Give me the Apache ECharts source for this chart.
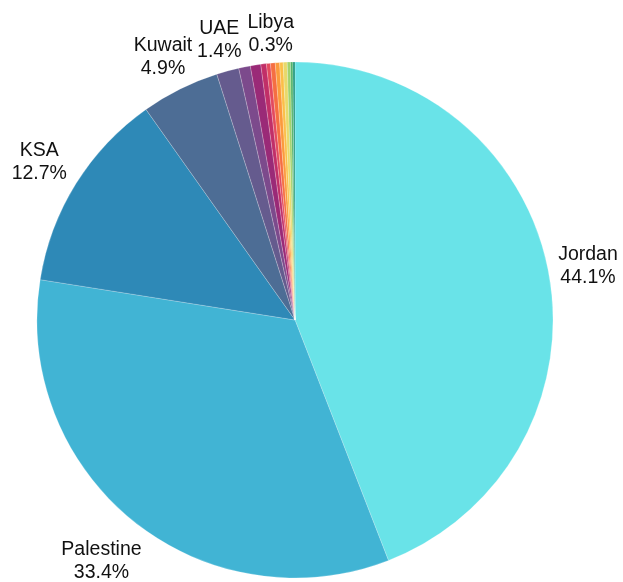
<!DOCTYPE html>
<html>
<head>
<meta charset="utf-8">
<script src="https://cdn.jsdelivr.net/npm/echarts@6/dist/echarts.min.js"></script>
<style>
html,body{margin:0;padding:0;background:#fff;}
#chart{width:623px;height:582px;}
</style>
</head>
<body>
<div id="chart"></div>
<script>
const countries = ['Jordan','Palestine','KSA','Kuwait','UAE','Qatar','Oman','Egypt','Bahrain','Libya','Iraq','Lebanon','Syria','Yemen','Sudan','Tunisia'];
const shares    = [44.1, 33.4, 12.7, 4.9, 1.4, 0.73, 0.65, 0.35, 0.25, 0.3, 0.27, 0.22, 0.25, 0.2, 0.15, 0.13];
const colors    = ['#69e3e8','#41b4d4','#2e89b7','#4d6d95','#655b8e','#7c4a8c','#9a2a77','#c12f68','#e34a5e','#f56e42','#fb9a3c','#fbbf48','#e8d96a','#a3d26d','#52b36a','#22997f'];
const labeled   = ['Jordan','Palestine','KSA','Kuwait','UAE','Libya'];

// fine placement nudges for the outside labels (pixels)
const labelNudge = {Jordan:[4,0], Palestine:[-9,12], KSA:[-6,-3], Kuwait:[-1,0], UAE:[1,4], Libya:[1,7]};

const mainData = countries.map((n,i)=>({name:n, value:shares[i], itemStyle:{color:colors[i]}}));
const labelData = countries.map((n,i)=>({
  name:n, value:shares[i],
  label: labeled.includes(n) ? {show:true, offset:labelNudge[n]} : {show:false}
}));

const chart = echarts.init(document.getElementById('chart'), null, {renderer:'canvas'});
chart.setOption({
  animation:false,
  backgroundColor:'#fff',
  series:[
    {
      type:'pie',
      center:[295,320],
      radius:[0,258],
      startAngle:90,
      clockwise:true,
      percentPrecision:1,
      label:{show:false},
      labelLine:{show:false},
      itemStyle:{borderColor:'rgba(255,255,255,0.35)',borderWidth:0.6},
      emphasis:{disabled:true},
      data:mainData
    },
    {
      type:'pie',
      center:[295,320],
      radius:[276,306],
      startAngle:90,
      clockwise:true,
      percentPrecision:1,
      silent:true,
      avoidLabelOverlap:false,
      labelLayout:{hideOverlap:false},
      itemStyle:{color:'rgba(0,0,0,0)'},
      label:{
        position:'inside',
        formatter:'{b}\n{d}%',
        fontFamily:'Liberation Sans, Arial, sans-serif',
        fontSize:19.5,
        lineHeight:23,
        color:'#111',
        align:'center'
      },
      labelLine:{show:false},
      emphasis:{disabled:true},
      data:labelData
    }
  ]
});
</script>
</body>
</html>
